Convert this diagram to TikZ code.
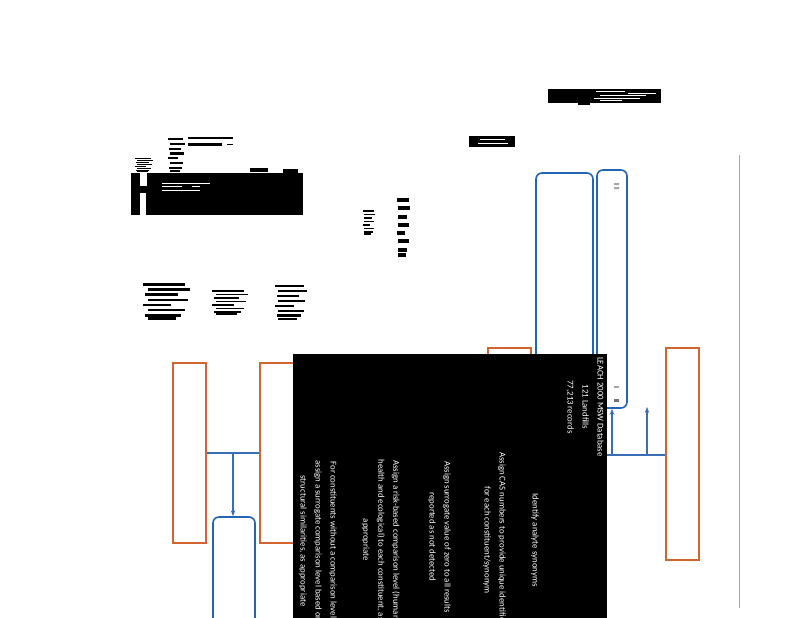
\documentclass[tikz,border=0pt]{standalone}
\usepackage{fontspec}
\newfontfamily\carl{Carlito}
\usetikzlibrary{arrows.meta,calc}
\definecolor{boxblue}{RGB}{35,100,180}
\definecolor{lineblue}{RGB}{55,110,180}
\definecolor{boxorange}{RGB}{210,100,50}
\definecolor{rulegray}{RGB}{165,165,178}
\newcommand{\scrib}[4]{%
  \begin{scope}[shift={(#1,#2)},xscale=#3,yscale=#4]
    \fill (0,0) rectangle (0.9,0.07);
    \fill (0.1,0.14) rectangle (1,0.21);
    \fill (0.05,0.28) rectangle (0.75,0.35);
    \fill (0.1,0.42) rectangle (0.95,0.49);
    \fill (0,0.56) rectangle (0.6,0.63);
    \fill (0.1,0.70) rectangle (0.9,0.77);
    \fill (0.05,0.84) rectangle (0.8,0.91);
    \fill (0.1,0.93) rectangle (0.7,1);
  \end{scope}}
\begin{document}
\begin{tikzpicture}[x=1pt,y=-1pt,
  bluebox/.style={draw=boxblue,line width=1.6pt,rounded corners=6pt,inner sep=0pt},
  orangebox/.style={draw=boxorange,line width=1.4pt,inner sep=0pt},
  conn/.style={draw=lineblue,line width=1.1pt},
  arr/.style={conn,-{Stealth[length=6pt,width=4.5pt]}},
  blackbox/.style={fill=black,draw=none,inner sep=0pt},
  wtext/.style={text=white,rotate=-90,align=center,inner sep=0pt,
    font=\carl\fontsize{8.8}{15}\selectfont}]
\useasboundingbox (0,0) rectangle (800,618);
\fill[white] (0,0) rectangle (800,618);
\clip (0,0) rectangle (800,618);

% gray rule
\draw[rulegray,line width=0.8pt] (739,155) -- (739,608);

% redacted header pieces
\fill[black] (548,89) rectangle (661,103);
\draw[white,line width=0.6pt] (596,91) -- (625,91) (628,93) -- (656,93)
  (600,95.5) -- (646,95.5) (594,98) -- (640,98) (600,100.5) -- (622,100.5);
\fill[black] (578,103) rectangle (590,105);
\fill[black] (469,136) rectangle (515,147);
\draw[white,line width=0.6pt] (480,139.5) -- (505,139.5) (478,143) -- (508,143);

% left redacted cluster
\fill[black] (131,173) rectangle (303,215);
\fill[white] (140,173) rectangle (147,186);
\fill[white] (140,193) rectangle (146,215);
\draw[white,line width=0.7pt] (162,183) -- (210,183) (162,186) -- (182,186)
  (192,186) -- (200,186) (162,190) -- (200,190);
\fill[black] (188,137) rectangle (233,139);
\fill[black] (188,143) rectangle (222,146);
\fill[black] (227,143.5) rectangle (233,145);
\scrib{168}{138}{17}{34}
\scrib{135}{158}{18}{14}
\fill[black] (250,168) rectangle (268,172);
\fill[black] (283,169) rectangle (298,172.5);
\scrib{363}{210}{12}{25}
\scrib{397}{198}{13}{59}
\scrib{143}{283}{47}{37}
\scrib{212}{290}{36}{25}
\scrib{275}{285}{32}{35}

% boxes
\node[bluebox,minimum width=57pt,minimum height=307pt] (b1) at (564.5,326.5) {};
\node[bluebox,minimum width=30pt,minimum height=238pt] (b2) at (612,289) {};
\node[bluebox,minimum width=42pt,minimum height=143pt] (bC) at (234,588.5) {};
\node[orangebox,minimum width=43pt,minimum height=192pt] (oA) at (509.5,444) {};
\node[orangebox,minimum width=33pt,minimum height=212pt] (oB) at (682.5,454) {};
\node[orangebox,minimum width=33pt,minimum height=180pt] (oL) at (189.5,453) {};
\node[orangebox,minimum width=40pt,minimum height=180pt] (oM) at (280,453) {};

% small marks in box 2
\fill[gray!70] (614,183) rectangle (619,185) (614,187) rectangle (619,189);
\fill[gray!70] (614,386) rectangle (619,387.5);
\fill[gray!90!black] (614,399) rectangle (619,402);

% connectors
\draw[conn] (oL.east) -- (oM.west);
\coordinate (lmid) at ($(oL.east)!0.5!(oM.west)$);
\draw[arr] (lmid) -- (lmid |- bC.north);
\coordinate (rjoin) at (600,455);
\draw[conn] (rjoin) -- (oB.west |- rjoin);
\coordinate (rtop) at (647,407);
\draw[arr] (b2.south |- rjoin) -- (b2.south);
\draw[arr] (rtop |- rjoin) -- (rtop);

% black overlay with rotated text
\node[blackbox,minimum width=314pt,minimum height=346pt] (blk) at (450,527) {};
\node[wtext] (leach) at (585,407) {LEACH 2000 MSW Database\\121 Landfills\\77,213 records};
\node[wtext] (ident) at (535,540) {Identify analyte synonyms};
\node[wtext] (cas) at (494.5,540) {Assign CAS numbers to provide unique identifiers\\for each constituent/synonym};
\node[wtext] (zero) at (439.5,537) {Assign surrogate value of zero to all results\\reported as not detected};
\node[wtext] (risk) at (381,540) {Assign a risk-based comparison level (human\\health and ecological) to each constituent, as\\appropriate};
\node[wtext] (forc) at (318,541) {For constituents without a comparison level,\\assign a surrogate comparison level based on\\structural similarities, as appropriate};
\end{tikzpicture}
\end{document}
